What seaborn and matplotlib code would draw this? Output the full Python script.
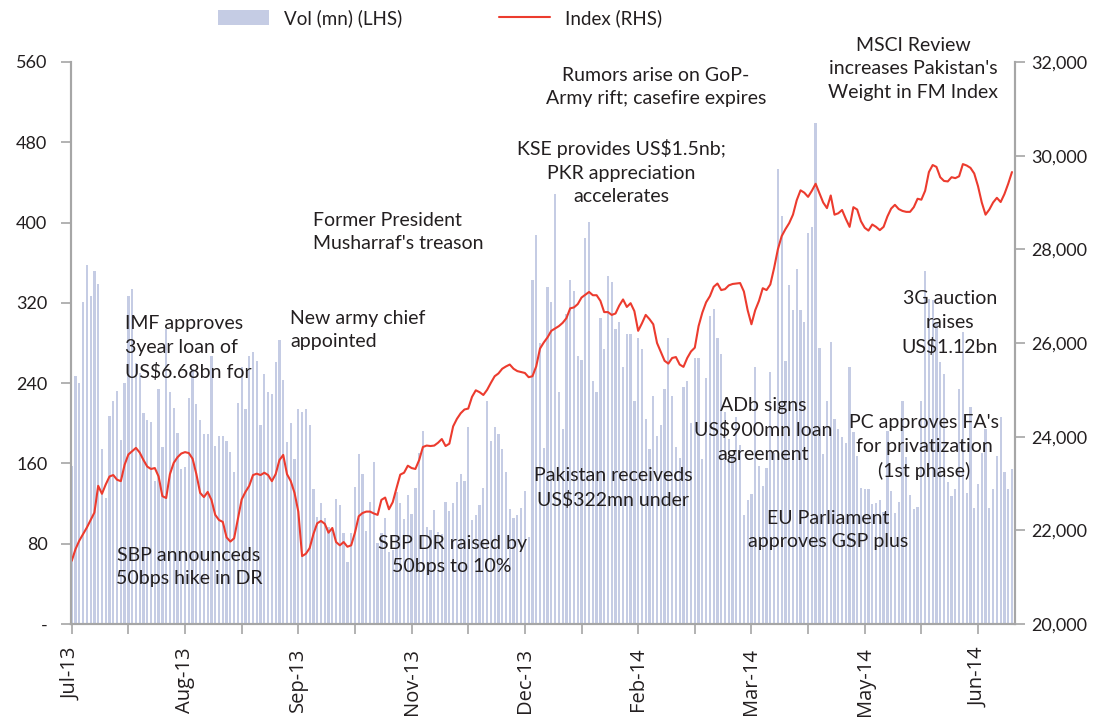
import matplotlib
matplotlib.use("Agg")
import matplotlib.pyplot as plt
from matplotlib.lines import Line2D
from matplotlib.patches import Patch
from matplotlib.ticker import FuncFormatter
import pandas as pd
import seaborn as sns

# Daily traded volume (mn shares), Jul-13 .. Jun-14
volume = [
    157, 247, 240, 321, 358, 327, 352, 339, 174, 126, 207, 222, 232, 183, 240, 327, 334,
    260, 250, 210, 203, 201, 142, 234, 176, 294, 231, 215, 190, 154, 156, 225, 254, 219,
    203, 189, 189, 267, 177, 187,
    187, 182, 171, 151, 220, 256, 214, 267, 271, 262, 198, 249, 231, 229, 261, 283, 243,
    181, 200, 164, 214, 211, 214, 198, 135, 107, 121, 106, 97,
    94, 125, 119, 91, 62, 91, 137, 169, 149, 93, 122, 161, 81,
    91, 106, 72, 74, 132, 121, 105, 129, 110, 136, 170, 192, 97, 94, 114, 92, 90, 122,
    113, 121, 141, 149, 142, 196, 104, 109, 119, 136, 222, 182, 196, 189, 174, 151, 115,
    106, 109, 116, 133, 87,
    343, 388, 280, 175, 336, 321, 428, 231, 194, 309, 343, 332, 267, 263, 385, 401, 242,
    231, 305, 274, 347, 341, 294, 301, 256, 289, 289, 222, 285, 274, 204, 174, 227, 187,
    198, 234, 285, 227, 176, 165, 236, 242,
    200, 265, 265, 164, 245, 307, 314, 285, 269, 211, 184, 168, 206, 178, 109, 124, 130,
    256, 157, 138, 155, 251, 170,
    453, 407, 262, 338, 313, 354, 313, 301, 390, 396, 499, 275, 169, 222, 281, 204, 194,
    186, 180, 256,
    191, 167, 136, 135, 135, 120, 121, 124, 112, 192, 133, 111, 122, 222, 166, 129, 115,
    117, 222, 352, 324, 323, 300, 261, 249, 141, 128, 135, 234, 291, 131, 216, 116, 140,
    170, 194, 116, 135, 167, 206, 151, 135, 154,
]

# KSE-100 index level, same days
index_level = [
    21350, 21600, 21780, 21920, 22060, 22220, 22380, 22950, 22780, 22980,
    23150, 23180, 23080, 23050, 23400, 23620, 23690, 23760, 23660, 23500,
    23360, 23310, 23330, 23150, 22730, 22690, 23200, 23440, 23560, 23640,
    23670, 23650, 23530, 23200, 22800, 22710, 22820, 22650, 22330, 22220,
    22180, 21850, 21760, 21830, 22250, 22660, 22820, 22950, 23180, 23210,
    23180, 23230, 23180, 23050, 23200, 23500, 23610, 23200, 23050, 22800,
    22400, 21450, 21500, 21620, 21920, 22150, 22200, 22140, 21950, 22050,
    21750, 21680, 21750, 21650, 21680, 21950, 22300, 22370, 22400, 22400,
    22360, 22330, 22650, 22700, 22450, 22600, 22900, 23190, 23230, 23380,
    23330, 23310, 23500, 23780, 23810, 23800, 23810, 23870, 23950, 23800,
    23850, 24220, 24380, 24500, 24580, 24600, 24850, 24990, 24950, 24890,
    25000, 25150, 25290, 25350, 25450, 25500, 25540, 25450, 25400, 25380,
    25360, 25270, 25290, 25500, 25880, 26010, 26120, 26260, 26310, 26360,
    26430, 26530, 26740, 26760, 26830, 26970, 27030, 27090, 27020, 27020,
    26900, 26660, 26660, 26600, 26630, 26800, 26930, 26770, 26850, 26680,
    26260, 26420, 26600, 26510, 26400, 26000, 25810, 25620, 25560, 25680,
    25700, 25540, 25490, 25680, 25820, 25900, 26360, 26650, 26870, 27000,
    27200, 27270, 27130, 27150, 27230, 27260, 27270, 27280, 27100, 26700,
    26400, 26700, 26900, 27170, 27130, 27250, 27600, 28000, 28280, 28430,
    28560, 28740, 29050, 29260, 29210, 29120, 29250, 29400, 29200, 29000,
    28880, 29150, 28740, 28770, 28840, 28650, 28480, 28900, 28850, 28600,
    28460, 28400, 28530, 28480, 28410, 28480, 28700, 28870, 28950, 28860,
    28820, 28800, 28800, 28900, 29080, 29060, 29250, 29650, 29800, 29760,
    29540, 29460, 29450, 29540, 29520, 29560, 29820, 29790, 29740, 29620,
    29350, 29000, 28740, 28850, 29000, 29100, 29010, 29180, 29400, 29650,
]

month_labels = ["Jul-13", "Aug-13", "Sep-13", "Nov-13", "Dec-13",
                "Feb-14", "Mar-14", "May-14", "Jun-14"]

events = [
    ("IMF approves\n3year loan of\nUS$6.68bn for", 125, 348, "left"),
    ("SBP announceds\n50bps hike in DR", 189, 567, "center"),
    ("New army chief\nappointed", 290, 330, "left"),
    ("Former President\nMusharraf's treason", 313, 232, "left"),
    ("SBP DR raised by\n50bps to 10%", 452, 555, "center"),
    ("KSE provides US$1.5nb;\nPKR appreciation\naccelerates", 621, 172, "center"),
    ("Rumors arise on GoP-\nArmy rift; casefire expires", 656, 87, "center"),
    ("Pakistan receiveds\nUS$322mn under", 613, 488, "center"),
    ("ADb signs\nUS$900mn loan\nagreement", 763, 430, "center"),
    ("EU Parliament\napproves GSP plus", 828, 530, "center"),
    ("MSCI Review\nincreases Pakistan's\nWeight in FM Index", 913, 69, "center"),
    ("3G auction\nraises\nUS$1.12bn", 950, 323, "center"),
    ("PC approves FA's\nfor privatization\n(1st phase)", 924, 447, "center"),
]

BAR = "#c5cce4"
RED = "#ec3b2e"
GREY = "#a6a6a6"
INK = "#231f20"
W, H = 1106, 726

df = pd.DataFrame({"day": range(len(volume)), "volume": volume, "index": index_level})

sns.set_style("white")
plt.rcParams["font.family"] = ["Lato", "DejaVu Sans"]
plt.rcParams["text.parse_math"] = False

fig = plt.figure(figsize=(W / 100, H / 100), dpi=100)
ax = fig.add_axes([71 / W, 1 - 624 / H, (1015 - 71) / W, (624 - 62) / H])
sns.barplot(data=df, x="day", y="volume", color=BAR, saturation=1, width=0.6,
            errorbar=None, linewidth=0, ax=ax)
ax2 = ax.twinx()
sns.lineplot(data=df, x="day", y="index", color=RED, linewidth=1.5, ax=ax2)

ax.set_xlim(-0.2, len(volume) - 0.2)
ax.set_ylim(0, 560)
ax2.set_ylim(20000, 32000)

ticks = list(range(0, len(volume), 15))
ax.set_xticks(ticks)
ax.set_xticklabels([month_labels[k // 2] if k % 2 == 0 else "" for k in range(len(ticks))],
                   rotation=90, fontsize=14.5, color=INK, family=["Open Sans", "DejaVu Sans"])
ax.set_yticks(range(0, 561, 80))
ax.set_yticklabels(["-"] + [str(v) for v in range(80, 561, 80)], fontsize=13, color=INK)
ax2.set_yticks(range(20000, 32001, 2000))
ax2.yaxis.set_major_formatter(FuncFormatter(lambda v, p: f"{v:,.0f}"))
for lab in ax2.get_yticklabels():
    lab.set_fontsize(13)
    lab.set_color(INK)

ax.tick_params(axis="x", bottom=True, direction="out", length=7, width=1.2, color=GREY, pad=10)
ax.tick_params(axis="y", left=True, direction="out", length=7, width=1.2, color=GREY, pad=10)
ax2.tick_params(axis="y", right=True, direction="out", length=7, width=1.2, color=GREY, pad=5)
ax.set_xlabel("")
ax.set_ylabel("")
ax2.set_ylabel("")

for a in (ax, ax2):
    a.spines["top"].set_visible(False)
    for s in ("left", "right", "bottom"):
        a.spines[s].set_color(GREY)
        a.spines[s].set_linewidth(1.5)

for text, x, y, ha in events:
    fig.text(x / W, 1 - y / H, text, ha=ha, va="center", multialignment=ha,
             fontsize=14, color=INK, linespacing=1.45)

handles = [Patch(facecolor=BAR, edgecolor="none"), Line2D([], [], color=RED, linewidth=1.5)]
fig.legend(handles, ["Vol (mn) (LHS)", "Index (RHS)"], loc="center",
           bbox_to_anchor=(440 / W, 1 - 18 / H), ncol=2, frameon=False,
           handlelength=2.7, handleheight=0.8, columnspacing=5.2,
           fontsize=13.5, labelcolor=INK)

fig.savefig("out.png", dpi=100)
